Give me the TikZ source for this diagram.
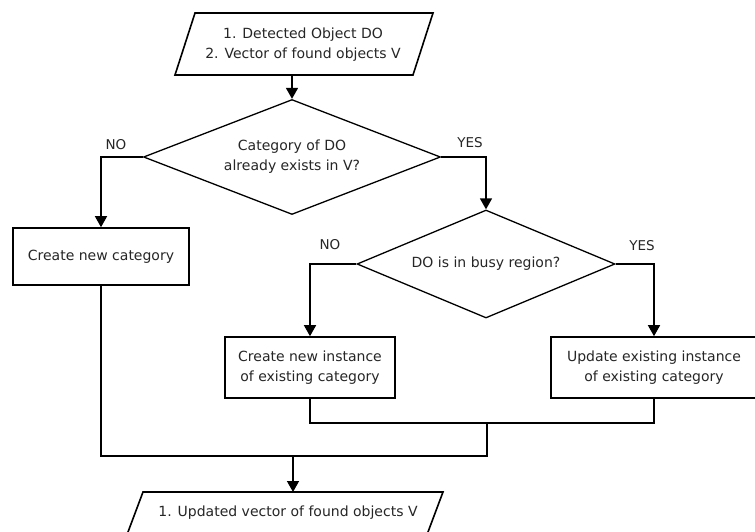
\documentclass[tikz,border=0pt]{standalone}
\usepackage{fontspec}
\setmainfont{DejaVu Sans}
\usetikzlibrary{shapes.geometric,arrows.meta}
\begin{document}
\begin{tikzpicture}[x=1pt,y=-1pt,
  every node/.style={font=\fontsize{14}{20}\selectfont, align=center, inner sep=0pt, text=black!85},
  box/.style={draw=black, line width=1.6pt, inner sep=0pt},
  dec/.style={diamond, draw=black, line width=1.3pt, inner sep=0pt},
  arr/.style={draw=black, line width=1.5pt, -{Triangle[width=12pt,length=11pt]}},
  ln/.style={draw=black, line width=1.3pt},
  lbl/.style={font=\fontsize{13.5}{16}\selectfont}]
\useasboundingbox (0,0) rectangle (755,532);
\clip (0,0) rectangle (755,532);
\fill[white] (0,0) rectangle (755,532);

% input parallelogram
\draw[line width=1.6pt] (195,13) -- (433,13) -- (413,75) -- (175,75) -- cycle;
\node (in) at (303,45) {1. Detected Object DO\\2. Vector of found objects V};
\coordinate (inb) at (292,75);

% decisions
\node[dec, aspect=2.58, minimum width=297pt, minimum height=115pt] (d1) at (292,157) {Category of DO\\already exists in V?};
\node[dec, aspect=2.39, minimum width=258pt, minimum height=108pt] (d2) at (486,264) {DO is in busy region?};

% boxes
\node[box, minimum width=176pt, minimum height=57pt] (b1) at (101,256.5) {Create new category};
\node[box, minimum width=170pt, minimum height=61pt] (b2) at (310,367.5) {Create new instance\\of existing category};
\node[box, minimum width=206pt, minimum height=61pt] (b3) at (654,367.5) {Update existing instance\\of existing category};

% output parallelogram
\draw[line width=1.6pt] (143,492) -- (443,492) -- (425,540) -- (125,540) -- cycle;
\node (out) at (288,513) {1. Updated vector of found objects V};
\coordinate (outt) at (293,492);

% labels
\node[lbl] (no1) at (116,145) {NO};
\node[lbl] (yes1) at (470,143) {YES};
\node[lbl] (no2) at (330,245) {NO};
\node[lbl] (yes2) at (642,246) {YES};

% connectors
\draw[arr] (inb) -- (d1.north);
\draw[arr] (d1.west) -| (b1.north);
\draw[arr] (d1.east) -| (d2.north);
\draw[arr] (d2.west) -| (b2.north);
\draw[arr] (d2.east) -| (b3.north);

\coordinate (j2) at (487,423);
\coordinate (j1) at (487,456);
\coordinate (j3) at (293,456);
\draw[ln] (b2.south) |- (j2) -| (b3.south);
\draw[ln] (b1.south) |- (j1) -- (j2);
\draw[arr] (j3) -- (outt);
\end{tikzpicture}
\end{document}
